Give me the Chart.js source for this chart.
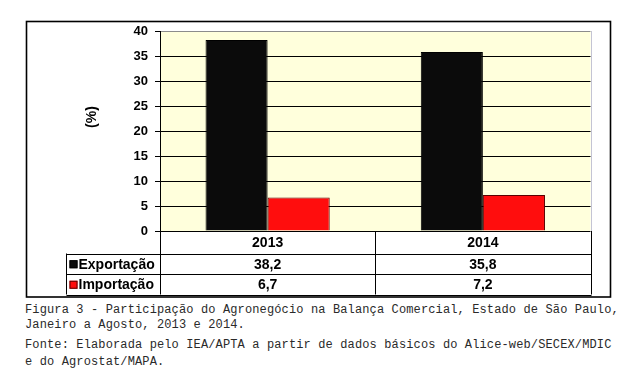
<!DOCTYPE html>
<html><head><meta charset="utf-8">
<script src="https://cdn.jsdelivr.net/npm/chart.js@4.4.1/dist/chart.umd.min.js"></script>
<style>
html,body{margin:0;padding:0;background:#fff;width:630px;height:376px;overflow:hidden;}
#wrap{position:absolute;left:0;top:0;width:630px;height:300px;}
.cap{position:absolute;left:25px;font-family:"Liberation Mono","Courier New",monospace;font-size:12px;line-height:14px;letter-spacing:0.13px;color:#2a2a2a;white-space:pre;}
</style></head><body>
<div id="wrap"><canvas id="c" width="630" height="300"></canvas></div>
<div class="cap" style="top:303px">Figura 3 - Participação do Agronegócio na Balança Comercial, Estado de São Paulo,</div>
<div class="cap" style="top:318px">Janeiro a Agosto, 2013 e 2014.</div>
<div class="cap" style="top:338px">Fonte: Elaborada pelo IEA/APTA a partir de dados básicos do Alice-web/SECEX/MDIC</div>
<div class="cap" style="top:355px">e do Agrostat/MAPA.</div>
<script>
const categories = ['2013', '2014'];
const seriesNames = ['Exportação', 'Importação'];
const exportacao = [38.2, 35.8];
const importacao = [6.7, 7.2];
const yAxisTitle = '(%)';
const yMax = 40;
const yStep = 5;

const seriesValues = [exportacao, importacao];
const fills = ['#0b0b0b', '#ff0d0d'];
const borders = ['#000000', '#5a0000'];
const plotBg = '#ffffdc';
const fmt = v => v.toFixed(1).replace('.', ',');

const tablePlugin = {
  id: 'dataTable',
  beforeDraw(chart) {
    const {ctx, chartArea: a} = chart;
    ctx.save();
    ctx.fillStyle = '#fff';
    ctx.fillRect(0, 0, chart.width, chart.height);
    ctx.fillStyle = plotBg;
    ctx.fillRect(a.left, a.top, a.right - a.left, a.bottom - a.top);
    ctx.restore();
  },
  afterDraw(chart) {
    const {ctx, chartArea: a, scales: {x}} = chart;
    ctx.save();
    // outer frame
    ctx.strokeStyle = '#000';
    ctx.lineWidth = 1.6;
    ctx.strokeRect(26.5, 21.5, 584, 275.5);
    // right border of plot
    ctx.strokeStyle = '#c4c4d4';
    ctx.lineWidth = 1;
    ctx.beginPath();
    ctx.moveTo(Math.round(a.right) + 0.5, a.top);
    ctx.lineTo(Math.round(a.right) + 0.5, a.bottom);
    ctx.stroke();
    // axis title
    ctx.fillStyle = '#000';
    ctx.font = 'bold 14px "Liberation Sans", Arial, sans-serif';
    ctx.textAlign = 'center';
    ctx.textBaseline = 'middle';
    ctx.save();
    ctx.translate(92, 117);
    ctx.rotate(-Math.PI / 2);
    ctx.fillText(yAxisTitle, 0, 0);
    ctx.restore();

    // data table
    const px = categories.map((c, i) => x.getPixelForValue(i));
    const edges = [x.left];
    for (let i = 0; i < px.length - 1; i++) edges.push((px[i] + px[i + 1]) / 2);
    edges.push(x.right);
    const y0 = a.bottom, y1 = y0 + 22.5, y2 = y1 + 20.5, y3 = y2 + 20.5;
    const legL = 66.5;
    ctx.strokeStyle = '#000';
    ctx.lineWidth = 1;
    ctx.beginPath();
    edges.forEach(e => { const xx = Math.round(e) + 0.5; ctx.moveTo(xx, y0); ctx.lineTo(xx, y3); });
    ctx.moveTo(legL, y1); ctx.lineTo(legL, y3);
    [y1, y2, y3].forEach(yy => { const r = Math.round(yy) + 0.5; ctx.moveTo(legL, r); ctx.lineTo(Math.round(x.right) + 0.5, r); });
    ctx.stroke();

    ctx.font = 'bold 14px "Liberation Sans", Arial, sans-serif';
    ctx.fillStyle = '#000';
    ctx.textAlign = 'center';
    ctx.textBaseline = 'middle';
    categories.forEach((c, i) => ctx.fillText(c, px[i], (y0 + y1) / 2 + 1));
    const rowsY = [(y1 + y2) / 2 + 1, (y2 + y3) / 2 + 1];
    seriesValues.forEach((vals, s) => {
      vals.forEach((v, i) => ctx.fillText(fmt(v), px[i], rowsY[s]));
      // legend key
      ctx.fillStyle = fills[s];
      ctx.fillRect(legL + 3, rowsY[s] - 4.5, 8, 8);
      ctx.strokeStyle = borders[s];
      ctx.strokeRect(legL + 3.5, rowsY[s] - 4, 7, 7);
      ctx.fillStyle = '#000';
      ctx.textAlign = 'left';
      ctx.fillText(seriesNames[s], legL + 12, rowsY[s]);
      ctx.textAlign = 'center';
    });
    ctx.restore();
  }
};

new Chart(document.getElementById('c'), {
  type: 'bar',
  data: {
    labels: categories,
    datasets: seriesNames.map((n, s) => ({
      label: n,
      data: seriesValues[s],
      backgroundColor: fills[s],
      borderColor: borders[s],
      borderWidth: 1,
      categoryPercentage: 0.577,
      barPercentage: 1.0
    }))
  },
  options: {
    responsive: false,
    devicePixelRatio: 1,
    animation: false,
    layout: { padding: { left: 26, top: 31, right: 39.5, bottom: 69 } },
    plugins: { legend: { display: false }, tooltip: { enabled: false }, title: { display: false } },
    scales: {
      x: { display: false },
      y: {
        min: 0, max: yMax,
        afterFit: s => { s.width = 134; },
        ticks: { stepSize: yStep, color: '#000', padding: 7,
          font: { family: '"Liberation Sans", Arial, sans-serif', size: 13, weight: 'bold' } },
        grid: {
          color: c => (c.tick && c.tick.value === yMax) ? '#8c8c8c' : '#000',
          tickColor: '#000', tickLength: 5, lineWidth: 1
        },
        border: { display: true, color: '#000', width: 1 }
      }
    }
  },
  plugins: [tablePlugin]
});
</script>
</body></html>
